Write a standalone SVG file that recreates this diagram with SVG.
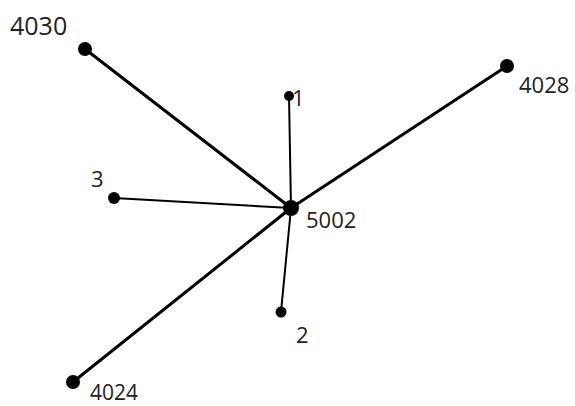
<svg xmlns="http://www.w3.org/2000/svg" width="575" height="406" viewBox="0 0 575 406">
<style>
.bg{fill:#fff}
.main{stroke:#000;stroke-width:3;fill:none;stroke-linecap:round}
.thin{stroke:#000;stroke-width:2;fill:none;stroke-linecap:round}
.node{fill:#000}
.lbl{font-family:"Open Sans","Noto Sans",sans-serif;fill:#222;font-size:22px}
</style>
<rect class="bg" width="575" height="406"/>
<g id="connectors">
<line class="main" x1="85" y1="49" x2="291" y2="208"/>
<line class="main" x1="507" y1="66" x2="291" y2="208"/>
<line class="main" x1="73" y1="382" x2="291" y2="208"/>
<line class="thin" x1="289" y1="96" x2="291" y2="208"/>
<line class="thin" x1="114" y1="198" x2="291" y2="208"/>
<line class="thin" x1="281" y1="312" x2="291" y2="208"/>
</g>
<g id="n4030"><circle class="node" cx="85" cy="49" r="7"/><text class="lbl" x="10" y="35" style="font-size:25px">4030</text></g>
<g id="n4028"><circle class="node" cx="507" cy="66" r="7"/><text class="lbl" x="519" y="93">4028</text></g>
<g id="n5002"><circle class="node" cx="291" cy="208" r="8"/><text class="lbl" x="306" y="228">5002</text></g>
<g id="n1"><circle class="node" cx="289" cy="96" r="5"/><text class="lbl" x="292" y="106" style="font-size:22px">1</text></g>
<g id="n3"><circle class="node" cx="114" cy="198" r="6"/><text class="lbl" x="91" y="187">3</text></g>
<g id="n2"><circle class="node" cx="281" cy="312" r="5.5"/><text class="lbl" x="296" y="343">2</text></g>
<g id="n4024"><circle class="node" cx="73" cy="382" r="7"/><text class="lbl" x="90" y="400" style="font-size:21px">4024</text></g>
</svg>
